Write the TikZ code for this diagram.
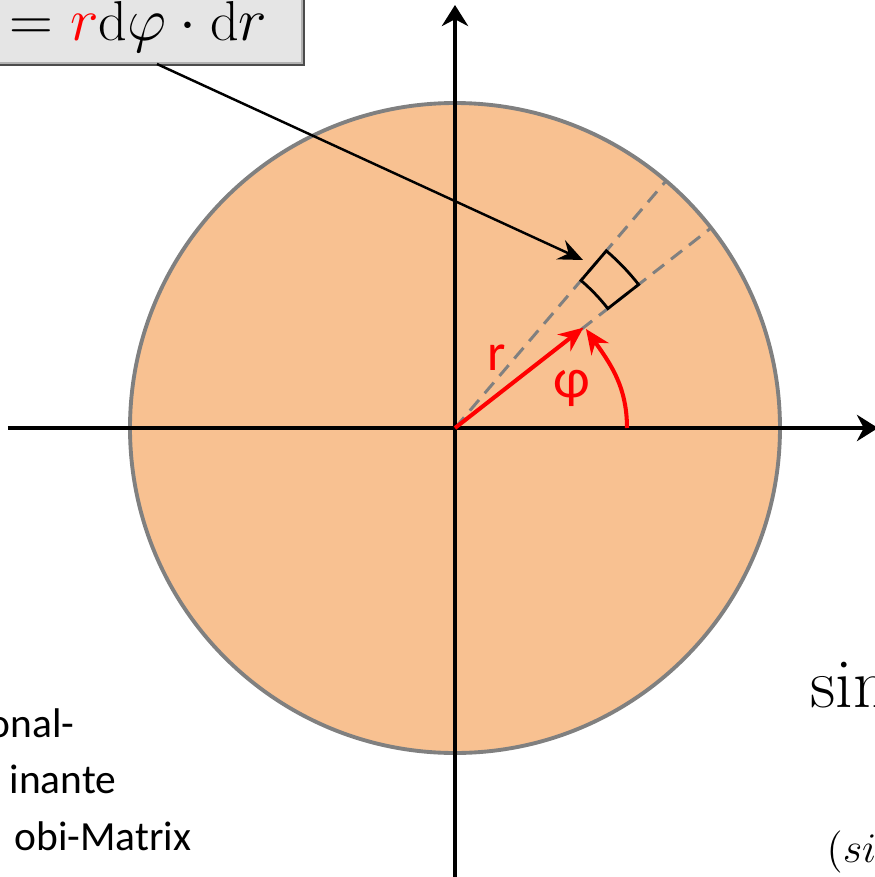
\documentclass[tikz,border=0pt]{standalone}
\usepackage{amsmath}
\usepackage{fontspec}
\newfontfamily\calibri{Carlito}
\usetikzlibrary{arrows.meta,shadows}
\definecolor{peach}{RGB}{248,193,145}

\begin{document}
\begin{tikzpicture}[>={Stealth[length=6pt,width=7.5pt]}]
    \useasboundingbox (-4.55,-4.49) rectangle (4.19,4.28);
    \coordinate (O) at (0,0);

    % disc
    \fill[peach] (O) circle (3.25);

    % sector lines
    \draw[gray, dashed, dash pattern=on 4pt off 2.5pt, line width=0.85pt] (O) -- (38:3.25);
    \draw[gray, dashed, dash pattern=on 4pt off 2.5pt, line width=0.85pt] (O) -- (49.5:3.25);
    \draw[gray, line width=1.1pt] (O) circle (3.25);

    % axes
    \draw[->, line width=1.4pt] (-4.47,0) -- (4.23,0);
    \draw[->, line width=1.4pt] (0,-4.6) -- (0,4.23);

    % area element
    \draw[line width=0.8pt] (38:1.94) arc (38:49.5:1.94) -- (49.5:2.33) arc (49.5:38:2.33) -- cycle;
    \coordinate (dA) at (1.28,1.68);

    % radius and angle
    \coordinate (P) at (38:1.63);
    \draw[red, ->, line width=1.15pt, >={Stealth[length=7pt,width=6pt]}] (O) -- (P);
    \draw[red, ->, line width=1.15pt, >={Stealth[length=7pt,width=6pt]}] (1.72,0) to[out=90, in=-55] (1.31,0.99);
    \node[red, font=\calibri\fontsize{15}{18}\selectfont] (r) at (0.42,0.70) {r};
    \node[red, font=\calibri\fontsize{16}{19}\selectfont] (phi) at (1.17,0.40) {φ};

    % formula box
    \fill[black!70] (-4.75,3.62) rectangle (-1.50,4.45);
    \fill[gray!20, draw=gray!60, line width=0.3pt] (-4.80,3.65) rectangle (-1.53,4.50);
    \node[anchor=base east, inner sep=0pt, font=\fontsize{16}{19}\selectfont] (formula) at (-1.87,3.88)
        {$= {\color{red}r}\mathrm{d}\varphi\cdot\mathrm{d}r$};
    \coordinate (box) at (-2.98,3.64);
    \draw[->, line width=0.7pt, >={Stealth[length=7pt,width=6pt,inset=2.5pt]}] (box) -- (dA);

    % text on the left
    \node[anchor=base east, inner sep=0pt, font=\calibri\fontsize{11.8}{14}\selectfont] (t1) at (-3.80,-3.09) {onal-};
    \node[anchor=base east, inner sep=0pt, font=\calibri\fontsize{11.8}{14}\selectfont] (t2) at (-3.38,-3.65) {inante};
    \node[anchor=base east, inner sep=0pt, font=\calibri\fontsize{11.8}{14}\selectfont] (t3) at (-2.63,-4.22) {obi-Matrix};

    % text on the right
    \node[anchor=base west, inner sep=0pt, font=\fontsize{20}{24}\selectfont] (sin) at (3.55,-2.79) {sin};
    \node[anchor=base west, inner sep=0pt, font=\fontsize{12.5}{15}\selectfont] (si) at (3.71,-4.34) {$(si$};
\end{tikzpicture}
\end{document}
